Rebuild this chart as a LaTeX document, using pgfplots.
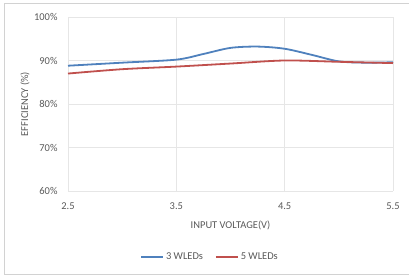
\documentclass[border=0pt]{standalone}
\usepackage{pgfplots}
\pgfplotsset{compat=1.18}
\usepackage{fontspec}
\setmainfont{Carlito}
\definecolor{lblue}{HTML}{4F81BD}
\definecolor{lred}{HTML}{C0504D}
\definecolor{gridc}{HTML}{E6E6E6}
\definecolor{txt}{HTML}{595959}
\begin{document}
\begin{tikzpicture}[x=1bp,y=1bp]
\useasboundingbox (-68,-84) rectangle (341,191);
\draw[color=gray!35, line width=0.8bp] (341,188) -- (-64,188) -- (-64,-83) -- (341,-83);
\begin{axis}[
  at={(0,0)}, anchor=origin,
  scale only axis, width=325bp, height=174bp,
  xmin=2.5, xmax=5.5, ymin=60, ymax=100,
  xtick={2.5,3.5,4.5,5.5}, ytick={60,70,80,90,100},
  xticklabels={2.5,3.5,4.5,5.5},
  yticklabels={60\%,70\%,80\%,90\%,100\%},
  grid=major, major grid style={gridc, line width=0.8bp},
  axis line style={draw=none},
  tick style={draw=none},
  ticklabel style={font=\fontsize{10.5}{12}\selectfont, text=txt},
  xticklabel style={anchor=center, yshift=-15bp},
  yticklabel style={anchor=east, xshift=-7bp},
  xlabel={INPUT VOLTAGE(V)}, ylabel={EFFICIENCY (\%)},
  label style={font=\fontsize{10.5}{12}\selectfont, text=txt},
  xlabel style={at={(axis description cs:0.5,-0.195)}, anchor=center},
  ylabel style={at={(axis description cs:-0.132,0.5)}, anchor=center},
  legend style={at={(0.437,-0.379)}, anchor=center, draw=none, legend columns=2,
    font=\fontsize{10.5}{12}\selectfont, text=txt, inner sep=0pt,
    /tikz/every even column/.append style={column sep=10bp}},
  legend image code/.code={\draw[#1, line width=1.8bp] (0,0) -- (22bp,0);},
]
\addplot[lblue, line width=1.8bp, smooth, tension=0.5] coordinates {
 (2.5,88.8) (3.0,89.5) (3.5,90.2) (3.75,91.5) (4.0,92.9) (4.25,93.2) (4.5,92.7) (4.75,91.3) (5.0,89.8) (5.25,89.5) (5.5,89.6)};
\addlegendentry{3 WLEDs}
\addplot[lred, line width=1.8bp, smooth, tension=0.5] coordinates {
 (2.5,87.0) (3.0,88.0) (3.5,88.6) (4.0,89.3) (4.5,90.0) (5.0,89.7) (5.5,89.4)};
\addlegendentry{5 WLEDs}
\end{axis}
\end{tikzpicture}
\end{document}
